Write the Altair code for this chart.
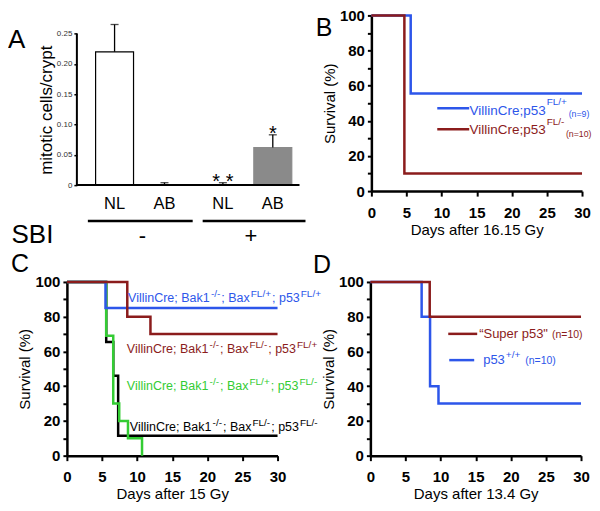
import altair as alt
import pandas as pd

FONT = "Liberation Sans"

# ---------------- data ----------------
# Panel A: mitotic cells per crypt
a_sbi = ["-", "-", "+", "+"]
a_stain = ["NL", "AB", "NL", "AB"]
a_mean = [0.220, 0.001, 0.001, 0.062]
a_upper = [0.265, 0.004, 0.004, 0.083]
a_star = ["", "", "* *", "*"]
a_yticks = [0, 0.05, 0.10, 0.15, 0.20, 0.25]

# Panel B: days after 16.15 Gy
b_blue_day = [0, 5.6, 30]
b_blue_surv = [100, 55.6, 55.6]
b_red_day = [0, 4.7, 30]
b_red_surv = [100, 10, 10]

# Panel C: days after 15 Gy
c_blue_day = [0, 5.5, 30]
c_blue_surv = [100, 85, 85]
c_red_day = [0, 8.6, 11.9, 30]
c_red_surv = [100, 80, 70, 70]
c_green_day = [0, 5.6, 6.6, 7.45, 8.7, 10.7]
c_green_surv = [100, 69, 30, 20, 10, 0]
c_black_day = [0, 5.6, 6.6, 7.3, 30]
c_black_surv = [100, 65.5, 46, 11.5, 11.5]

# Panel D: days after 13.4 Gy
d_red_day = [0, 8.45, 30]
d_red_surv = [100, 80, 80]
d_blue_day = [0, 7.3, 8.5, 9.7, 30]
d_blue_surv = [100, 80, 40, 30, 30]

surv_xticks = [0, 5, 10, 15, 20, 25, 30]
surv_yticks = [0, 10, 20, 30, 40, 50, 60, 70, 80, 90, 100]

# ---------------- styles ----------------
BLUE = "#2d56ea"
RED = "#8b1c1c"
GREEN = "#33cc33"
BLACK = "#000000"
GREY = "#8a8a8a"

ONE = pd.DataFrame({"k": [0]})

CW = {' ': 278, '"': 355, '\u201c': 333, '(': 333, ')': 333, '+': 584, ';': 278,
      '-': 333, '/': 278, '=': 584, 'B': 667, 'C': 722, 'F': 611, 'L': 556,
      'S': 667, 'V': 667, 'a': 556, 'e': 556, 'i': 222, 'k': 500, 'l': 222,
      'n': 556, 'p': 556, 'r': 333, 'u': 556, 'x': 500, 'y': 500}


def tw(s, size):
    return sum(CW.get(c, 556) for c in s) * size / 1000.0


def txt(text, x, y, size, color="black", align="left", baseline="alphabetic", dy=0, weight="normal"):
    return alt.Chart(ONE).mark_text(
        text=text, font=FONT, fontSize=size, color=color, align=align,
        baseline=baseline, dy=dy, fontWeight=weight
    ).encode(x=alt.value(x), y=alt.value(y))


def seg(x1, x2, y, color="black", width=2.5):
    return alt.Chart(ONE).mark_rule(color=color, strokeWidth=width).encode(
        x=alt.value(x1), x2=alt.value(x2), y=alt.value(y))


def rich(pieces, x0, y0, color):
    out = []
    x = x0
    for text, size, dy, gap in pieces:
        x += gap
        out.append(txt(text, x, y0, size, color, dy=dy))
        x += tw(text, size)
    return out


# ---------------- Panel A ----------------
WA, HA = 233, 170
dfA = pd.DataFrame({"sbi": a_sbi, "stain": a_stain, "mean": a_mean,
                    "upper": a_upper, "star": a_star})
xA = alt.X("sbi:N", sort=["-", "+"], axis=None,
           scale=alt.Scale(paddingInner=0.1889, paddingOuter=0.1682, align=0.7877))
xoA = alt.XOffset("stain:N", sort=["NL", "AB"],
                  scale=alt.Scale(paddingInner=0.24, paddingOuter=0))
axA = alt.Axis(values=a_yticks,
               labelExpr="datum.value == 0 ? '0' : format(datum.value, '.2f')",
               offset=-10, domain=False, grid=False, ticks=True, labels=True,
               tickSize=3, tickWidth=1.5,
               tickColor="black", labelFont=FONT, labelFontSize=8, labelColor="#333333",
               labelPadding=2, title="mitotic cells/crypt", titleFont=FONT,
               titleFontSize=17, titleFontWeight="normal", titleColor="black",
               titlePadding=1, titleY=94.5)
scA = alt.Scale(domain=[0, 0.28], nice=False)
gray_cond = "datum.sbi == '+' && datum.stain == 'AB'"

bars = alt.Chart(dfA).mark_bar(strokeWidth=1.2).encode(
    x=xA, xOffset=xoA,
    y=alt.Y("mean:Q", scale=scA, axis=axA),
    fill=alt.condition(gray_cond, alt.value(GREY), alt.value("white")),
    stroke=alt.condition(gray_cond, alt.value(GREY), alt.value("black")),
)
errs = alt.Chart(dfA).mark_rule(color="black", strokeWidth=1.3).encode(
    x=xA, xOffset=xoA, y=alt.Y("mean:Q", scale=scA, axis=axA), y2="upper:Q")
caps = alt.Chart(dfA).mark_tick(color="black", thickness=1.3, size=8).encode(
    x=xA, xOffset=xoA, y=alt.Y("upper:Q", scale=scA, axis=axA))
stars = alt.Chart(dfA).mark_text(font=FONT, fontSize=20, baseline="alphabetic", dy=5.5).encode(
    x=xA, xOffset=xoA, y=alt.Y("upper:Q", scale=scA, axis=axA), text="star:N")
stain_lbl = alt.Chart(dfA).mark_text(font=FONT, fontSize=16.5, baseline="alphabetic").encode(
    x=xA, xOffset=xoA, y=alt.value(194.3), text="stain:N")
sbi_lbl = alt.Chart(pd.DataFrame({"sbi": ["-", "+"]})).mark_text(
    font=FONT, fontSize=22, baseline="alphabetic", dx=3).encode(
    x=xA, y=alt.value(227.7), text="sbi:N")
yrule = alt.Chart(ONE).mark_rule(color="black", strokeWidth=2).encode(
    x=alt.value(10), y=alt.Y(datum=0, scale=scA, axis=axA), y2=alt.Y2(datum=0.25))
xbase = alt.Chart(ONE).mark_rule(color="black", strokeWidth=2).encode(
    x=alt.value(10), x2=alt.value(WA), y=alt.Y(datum=0, scale=scA, axis=axA))

panelA = alt.layer(
    bars, errs, caps, stars, stain_lbl, sbi_lbl, yrule, xbase,
    seg(21, 126, 206), seg(136, 239, 206),
    txt("A", -50.3, 32.7, 26, align="center"),
    txt("SBI", -34.5, 227.7, 26, align="center"),
).properties(width=WA, height=HA)


# ---------------- survival panels ----------------
def km_layers(series, order, colors, xtitle):
    rows = []
    for name, (days, surv) in series.items():
        for d, s in zip(days, surv):
            rows.append({"series": name, "day": d, "surv": s})
    df = pd.DataFrame(rows)
    xax = alt.Axis(values=surv_xticks, title=xtitle, domainWidth=2.5, domainColor="black",
                   tickColor="black", tickWidth=2, tickSize=5, labelFont=FONT,
                   labelFontWeight="bold", labelFontSize=15, labelColor="black",
                   labelPadding=9, labelFlush=False, labelOverlap=False,
                   titleFont=FONT, titleFontSize=15, titleFontWeight="normal",
                   titleColor="black", titlePadding=2, grid=False)
    yax = alt.Axis(values=surv_yticks,
                   labelExpr="datum.value % 20 == 0 ? datum.label : ''",
                   title="Survival (%)", domainWidth=2.5, domainColor="black",
                   tickColor="black", tickWidth=2, tickSize=4, labelFont=FONT,
                   labelFontWeight="bold", labelFontSize=15, labelColor="black",
                   labelPadding=3, labelFlush=False, labelOverlap=False,
                   titleFont=FONT, titleFontSize=15, titleFontWeight="normal",
                   titleColor="black", titlePadding=2, grid=False)
    layers = []
    for name in order:
        layers.append(
            alt.Chart(df).transform_filter(alt.datum.series == name).mark_line(
                interpolate="step-after", strokeWidth=2.5, color=colors[name]
            ).encode(
                x=alt.X("day:Q", scale=alt.Scale(domain=[0, 30], nice=False, zero=False), axis=xax),
                y=alt.Y("surv:Q", scale=alt.Scale(domain=[0, 100], nice=False), axis=yax),
            )
        )
    return layers


W, H = 211, 176
panelB = alt.layer(
    *km_layers({"blue": (b_blue_day, b_blue_surv), "red": (b_red_day, b_red_surv)},
               ["blue", "red"], {"blue": BLUE, "red": RED}, "Days after 16.15 Gy"),
    seg(66, 98, 93, BLUE), seg(66, 98, 114, RED),
    *rich([("VillinCre;p53", 13.5, 0, 0), ("FL/+", 10, -10, 0.8), ("(n=9)", 8.8, 2.5, 1.7)],
          98.3, 99.7, BLUE),
    *rich([("VillinCre;p53", 13.5, 0, 0), ("FL/-", 10, -9, 0.8), ("(n=10)", 8.8, 3, 1.5)],
          98.3, 118.7, RED),
    txt("B", -47.3, 21, 25, align="center"),
).properties(width=W, height=H)

HC = 174


def c_label(bax, p53, x0, y0, color):
    m, s, sd = 12.5, 10, -5.6
    return rich([("VillinCre; Bak1", m, 0, 0), ("-/-", s, sd, 1), ("; Bax", m, 0, 1),
                 (bax, s, sd, 1), ("; p53", m, 0, 1), (p53, s, sd, 1)], x0, y0, color)


panelC = alt.layer(
    *km_layers({"black": (c_black_day, c_black_surv), "green": (c_green_day, c_green_surv),
                "blue": (c_blue_day, c_blue_surv), "red": (c_red_day, c_red_surv)},
               ["black", "green", "blue", "red"],
               {"black": BLACK, "green": GREEN, "blue": BLUE, "red": RED}, "Days after 15 Gy"),
    *c_label("FL/+", "FL/+", 61.3, 20.5, BLUE),
    *c_label("FL/-", "FL/+", 60, 71.5, RED),
    *c_label("FL/+", "FL/-", 60, 108.5, GREEN),
    *c_label("FL/-", "FL/-", 63, 149.5, BLACK),
    txt("C", -47, -9.5, 25, align="center"),
).properties(width=W, height=HC)

panelD = alt.layer(
    *km_layers({"blue": (d_blue_day, d_blue_surv), "red": (d_red_day, d_red_surv)},
               ["blue", "red"], {"blue": BLUE, "red": RED}, "Days after 13.4 Gy"),
    seg(78, 107, 52, RED), seg(79, 104, 78.3, BLUE),
    *rich([("\u201cSuper p53\"", 13, 0, 0), ("(n=10)", 10.5, 0, 4)], 109, 55.7, RED),
    *rich([("p53", 13, 0, 0), ("+/+", 10, -6, 1), ("(n=10)", 10.5, 0, 5)], 113, 82.3, BLUE),
    txt("D", -48.5, -9.3, 25, align="center"),
).properties(width=W, height=HC)

top = alt.hconcat(panelA, panelB, spacing=72, bounds="flush")
bottom = alt.hconcat(panelC, panelD, spacing=93, bounds="flush")
chart = alt.vconcat(top, bottom, spacing=4).properties(padding=0).configure_view(stroke=None)

chart.save("out.html", embed_options={"renderer": "svg", "actions": False})
